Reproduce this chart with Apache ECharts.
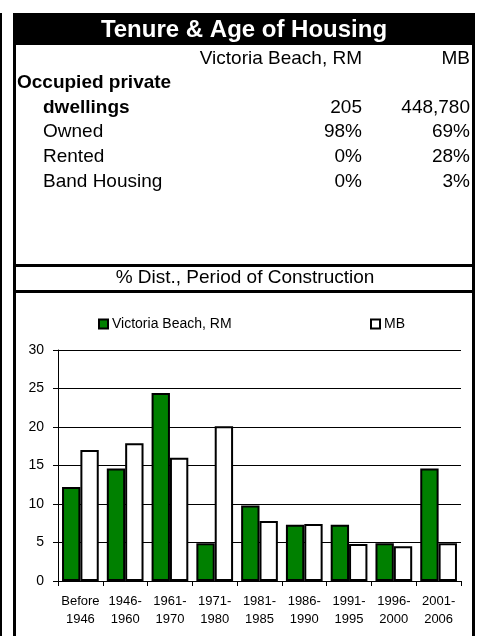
<!DOCTYPE html>
<html>
<head>
<meta charset="utf-8">
<script src="https://cdn.jsdelivr.net/npm/echarts@6/dist/echarts.min.js"></script>
<style>
  html, body { margin: 0; padding: 0; background: #fff; }
  #chart { width: 479px; height: 636px; }
</style>
</head>
<body>
<div id="chart"></div>
<script>
// table data
var tableTitle = 'Tenure & Age of Housing';
var colNames = ['Victoria Beach, RM', 'MB'];
var rowLabels = ['Occupied private', 'dwellings', 'Owned', 'Rented', 'Band Housing'];
var areaCol = ['', '205', '98%', '0%', '0%'];
var mbCol = ['', '448,780', '69%', '28%', '3%'];

// chart data
var chartTitle = '% Dist., Period of Construction';
var periods = ['Before\n1946', '1946-\n1960', '1961-\n1970', '1971-\n1980', '1981-\n1985',
               '1986-\n1990', '1991-\n1995', '1996-\n2000', '2001-\n2006'];
var areaDist = [12.2, 14.6, 24.4, 4.9, 9.8, 7.3, 7.3, 4.9, 14.6];
var mbDist = [17.0, 17.9, 16.0, 20.1, 7.8, 7.4, 4.8, 4.5, 4.9];
var yTicks = { min: 0, max: 30, step: 5 };

var FONT = '"Liberation Sans", Arial, sans-serif';

function txt(s, x, y, align, size, bold, color) {
  return {
    type: 'text',
    style: {
      text: s, x: x, y: y,
      align: align, verticalAlign: 'middle',
      fill: color || '#000',
      font: (bold ? 'bold ' : '') + size + 'px ' + FONT
    }
  };
}

var g = [];
// frame
g.push({ type: 'rect', shape: { x: 0, y: 13, width: 2, height: 623 }, style: { fill: '#000' } });
g.push({ type: 'rect', shape: { x: 13, y: 13, width: 462, height: 32 }, style: { fill: '#000' } });
g.push({ type: 'rect', shape: { x: 13, y: 13, width: 3, height: 623 }, style: { fill: '#000' } });
g.push({ type: 'rect', shape: { x: 472, y: 13, width: 3, height: 623 }, style: { fill: '#000' } });
g.push({ type: 'rect', shape: { x: 13, y: 264, width: 462, height: 3 }, style: { fill: '#000' } });
g.push({ type: 'rect', shape: { x: 13, y: 290, width: 462, height: 3 }, style: { fill: '#000' } });

g.push(txt(tableTitle, 244, 30, 'center', 24, true, '#fff'));
g.push(txt(colNames[0], 362, 59, 'right', 19));
g.push(txt(colNames[1], 470, 59, 'right', 19));

var rowY = [83, 108, 132, 157, 182];
rowLabels.forEach(function (lab, i) {
  g.push(txt(lab, i === 0 ? 17 : 43, rowY[i], 'left', 19, i < 2));
  if (areaCol[i]) g.push(txt(areaCol[i], 362, rowY[i], 'right', 19));
  if (mbCol[i]) g.push(txt(mbCol[i], 470, rowY[i], 'right', 19));
});

g.push(txt(chartTitle, 245, 278, 'center', 19));

var chart = echarts.init(document.getElementById('chart'), null, { renderer: 'canvas' });

var legendText = { fontSize: 14, color: '#000', fontFamily: FONT, padding: [0, 0, 0, -1] };

var option = {
  animation: false,
  backgroundColor: '#fff',
  textStyle: { fontFamily: FONT },
  graphic: g,
  legend: [
    {
      data: [colNames[0]], left: 93, top: 312,
      icon: 'rect', itemWidth: 9, itemHeight: 9, itemGap: 0,
      textStyle: legendText
    },
    {
      data: [colNames[1]], left: 365, top: 312,
      icon: 'rect', itemWidth: 9, itemHeight: 9, itemGap: 0,
      textStyle: legendText
    }
  ],
  grid: { left: 58, top: 350, width: 403, height: 231 },
  xAxis: {
    type: 'category',
    data: periods,
    axisLine: { lineStyle: { color: '#000', width: 1 } },
    axisTick: { show: true, length: 5, lineStyle: { color: '#000' } },
    axisLabel: { interval: 0, fontSize: 13, lineHeight: 18, color: '#000', margin: 11, fontFamily: FONT }
  },
  yAxis: {
    type: 'value',
    min: yTicks.min, max: yTicks.max, interval: yTicks.step,
    axisLine: { show: true, lineStyle: { color: '#000', width: 1 } },
    axisTick: { show: true, length: 5, lineStyle: { color: '#000' } },
    axisLabel: { fontSize: 14, color: '#000', margin: 14, fontFamily: FONT },
    splitLine: { lineStyle: { color: '#000', width: 1 } }
  },
  series: [
    {
      name: colNames[0], type: 'bar', data: areaDist,
      barGap: '0%', barCategoryGap: '18%',
      itemStyle: { color: '#008000', borderColor: '#000', borderWidth: 2 }
    },
    {
      name: colNames[1], type: 'bar', data: mbDist,
      barGap: '0%', barCategoryGap: '18%',
      itemStyle: { color: '#fff', borderColor: '#000', borderWidth: 2 }
    }
  ]
};

chart.setOption(option);
window.addEventListener('resize', chart.resize);
</script>
</body>
</html>
